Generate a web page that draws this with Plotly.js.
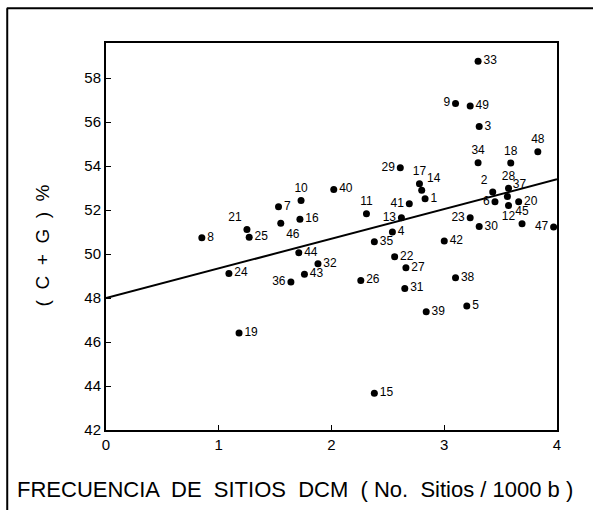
<!DOCTYPE html>
<html>
<head>
<meta charset="utf-8">
<script src="https://cdn.plot.ly/plotly-3.0.1.min.js"></script>
<style>
html,body{margin:0;padding:0;background:#fff;}
#chart{width:593px;height:510px;}
</style>
</head>
<body>
<div id="chart"></div>
<script>
// Data
var pointLabels = ["1","2","3","4","5","6","7","8","9","10","11","12","13","14","15","16","17","18","19","20","21","22","23","24","25","26","27","28","29","30","31","32","33","34","35","36","37","38","39","40","41","42","43","44","45","46","47","48","49"];
var freqDCM = [2.83,3.43,3.31,2.54,3.20,3.45,1.53,0.85,3.10,1.73,2.31,3.57,2.62,2.80,2.38,1.72,2.78,3.59,1.18,3.66,1.25,2.56,3.23,1.09,1.27,2.26,2.66,3.57,2.61,3.31,2.65,1.88,3.30,3.30,2.38,1.64,3.56,3.10,2.84,2.02,2.69,3.00,1.76,1.71,3.69,1.55,3.97,3.83,3.23];
var cgPercent = [52.52,52.82,55.80,51.01,47.64,52.38,52.15,50.74,56.85,52.44,51.83,52.21,51.65,52.90,43.67,51.58,53.20,54.14,46.41,52.38,51.12,49.88,51.65,49.12,50.77,48.80,49.38,52.99,53.93,51.25,48.44,49.56,58.77,54.15,50.56,48.73,52.62,48.92,47.38,52.94,52.29,50.60,49.08,50.06,51.38,51.40,51.23,54.65,56.73];
var fitX = [0, 4];
var fitY = [48.0, 53.4];
var xTicks = [0, 1, 2, 3, 4];
var yTicks = [42, 44, 46, 48, 50, 52, 54, 56, 58];

// label placement (style only)
var labelPos = {"9":"middle left","10":"top center","11":"top center","13":"middle left","14":"top right","17":"top center","18":"top center","21":"top left","23":"middle left","28":"top center","29":"middle left","2":"top left","6":"middle left","12":"bottom center","34":"top center","36":"middle left","41":"middle left","45":"top center","46":"bottom right","47":"middle left","48":"top center","37":"top right"};
var positions = pointLabels.map(function(l){ return labelPos[l] || "middle right"; });

var FONT = "Liberation Sans, Arial, sans-serif";

var traces = [
  {x: fitX, y: fitY, mode: "lines", type: "scatter", line: {color: "#000", width: 2}, hoverinfo: "skip", showlegend: false, cliponaxis: false},
  {x: freqDCM, y: cgPercent, mode: "markers+text", type: "scatter", text: pointLabels, textposition: positions,
   textfont: {family: FONT, size: 12, color: "#000"},
   marker: {color: "#000", size: 7}, showlegend: false, cliponaxis: false}
];

var layout = {
  width: 593, height: 510,
  margin: {l: 106, r: 36, t: 43, b: 80},
  paper_bgcolor: "#fff", plot_bgcolor: "#fff",
  font: {family: FONT, color: "#000", size: 15},
  xaxis: {range: [0, 4], tickvals: xTicks, ticktext: xTicks.map(String), showgrid: false, zeroline: false,
          showline: true, linecolor: "#000", linewidth: 2, mirror: true, ticks: "inside", ticklen: 5, tickcolor: "#000",
          tickfont: {family: FONT, size: 15, color: "#000"}},
  yaxis: {range: [42, 59.6], tickvals: yTicks, ticktext: yTicks.map(String), showgrid: false, zeroline: false,
          showline: true, linecolor: "#000", linewidth: 2, mirror: true, ticks: "inside", ticklen: 5, tickcolor: "#000",
          tickfont: {family: FONT, size: 15, color: "#000"}},
  annotations: [
    {text: "FRECUENCIA  DE  SITIOS  DCM  ( No.  Sitios / 1000 b )", xref: "paper", yref: "paper", x: 0.42, y: -0.155,
     showarrow: false, xanchor: "center", yanchor: "middle", font: {family: FONT, size: 22, color: "#000"}},
    {text: "(  C  +  G  )  %", xref: "paper", yref: "paper", x: -0.141, y: 0.478, textangle: -90,
     showarrow: false, xanchor: "center", yanchor: "middle", font: {family: FONT, size: 19, color: "#000"}}
  ],
  shapes: [
    {type: "line", xref: "paper", yref: "paper", x0: -0.22, x1: 1.09, y0: 1.09, y1: 1.09, line: {color: "#000", width: 2}},
    {type: "line", xref: "paper", yref: "paper", x0: -0.219, x1: -0.219, y0: 1.09, y1: -0.21, line: {color: "#000", width: 2}}
  ]
};

Plotly.newPlot("chart", traces, layout, {displayModeBar: false, staticPlot: true});
</script>
</body>
</html>
